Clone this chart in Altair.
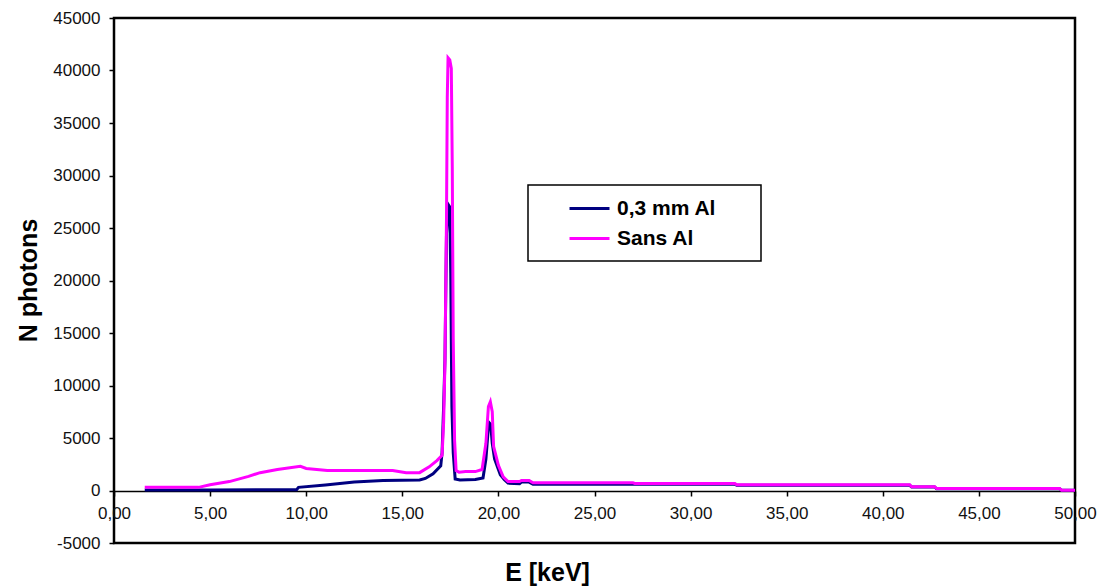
import altair as alt
import pandas as pd

# Series: 0,3 mm Al (navy)
e_al = [1.6, 5.0, 9.5, 9.6, 11.0, 12.5, 14.0, 15.9, 16.2, 16.6, 17.0, 17.07, 17.15, 17.22,
        17.3, 17.4, 17.47, 17.52, 17.58, 17.65, 17.75, 18.0, 18.8, 19.2, 19.35, 19.5, 19.6,
        19.68, 19.8, 20.1, 20.3, 20.5, 21.1, 21.2, 21.6, 21.8, 27.0, 27.1, 32.3, 32.4, 41.4,
        41.5, 42.7, 42.8, 49.2, 49.3, 50.0]
n_al = [40, 50, 80, 300, 520, 800, 950, 1000, 1150, 1600, 2350, 3600, 8000, 12500,
        24500, 27200, 27000, 20700, 8000, 3600, 1100, 1000, 1050, 1200, 3000, 6500, 6300,
        4500, 3000, 1500, 1050, 700, 650, 800, 800, 600, 600, 600, 600, 500, 500,
        340, 340, 160, 160, 30, 30]

# Series: Sans Al (magenta)
e_sans = [1.6, 4.4, 5.0, 6.0, 7.0, 7.6, 8.5, 9.7, 10.0, 11.1, 14.5, 15.2, 15.9, 16.4, 16.8,
          17.07, 17.15, 17.22, 17.3, 17.34, 17.38, 17.47, 17.55, 17.6, 17.65, 17.72, 17.8,
          17.95, 18.3, 18.8, 19.15, 19.35, 19.48, 19.58, 19.68, 19.75, 20.0, 20.25, 20.5,
          21.1, 21.2, 21.6, 21.8, 27.0, 27.1, 32.3, 32.4, 41.4, 41.5, 42.7, 42.8, 49.2, 49.3, 50.0]
n_sans = [300, 300, 550, 850, 1350, 1700, 2000, 2300, 2100, 1900, 1900, 1700, 1700, 2250, 2850,
          3350, 6500, 12200, 26000, 37400, 41200, 41000, 40200, 30800, 14500, 4800, 1900,
          1750, 1800, 1800, 2000, 4500, 8000, 8450, 7500, 4200, 2400, 1300, 850,
          850, 950, 950, 730, 730, 670, 670, 540, 540, 350, 350, 190, 190, 30, 30]

series_names = ["0,3 mm Al", "Sans Al"]
series_colors = ["#000080", "#FF00FF"]
x_ticks = [0, 5, 10, 15, 20, 25, 30, 35, 40, 45, 50]
y_ticks = [-5000, 0, 5000, 10000, 15000, 20000, 25000, 30000, 35000, 40000, 45000]

df = pd.concat([
    pd.DataFrame({"E": e_al, "N": n_al, "serie": series_names[0]}),
    pd.DataFrame({"E": e_sans, "N": n_sans, "serie": series_names[1]}),
], ignore_index=True)

FONT = "Liberation Sans"

chart = alt.Chart(df).mark_line(strokeWidth=3, clip=True).encode(
    x=alt.X("E:Q",
            scale=alt.Scale(domain=[0, 50], nice=False, zero=False),
            axis=alt.Axis(values=x_ticks, title="E [keV]", offset=-52,
                          labelExpr="replace(format(datum.value, '.2f'), '.', ',')",
                          labelFontSize=17, labelColor="#111", labelPadding=9,
                          labelOverlap=False, labelFlush=False, labelBound=False,
                          tickSize=5, tickColor="black", tickWidth=1.5,
                          domainColor="black", domainWidth=1.5, grid=False,
                          titleFontSize=25, titleFontWeight="bold", titleColor="black",
                          titleX=433, titleY=81, titleAlign="center", titleBaseline="middle")),
    y=alt.Y("N:Q",
            scale=alt.Scale(domain=[-5000, 45000], nice=False, zero=False),
            axis=alt.Axis(values=y_ticks,
                          labelExpr="replace(format(datum.value, 'd'), '\u2212', '-')",
                          title="N photons",
                          labelFontSize=17, labelColor="#111", labelPadding=9,
                          tickSize=5, tickColor="black", tickWidth=1.5,
                          domain=False, grid=False,
                          titleFontSize=25, titleFontWeight="bold", titleColor="black",
                          titleX=-86, titleY=262, titleAngle=270,
                          titleAlign="center", titleBaseline="middle")),
    color=alt.Color("serie:N",
                    scale=alt.Scale(domain=series_names, range=series_colors),
                    legend=alt.Legend(title=" ", titleOrient="right", titlePadding=33,
                                      titleFontSize=21,
                                      orient="none", legendX=414, legendY=167,
                                      labelFontSize=21, labelFontWeight="bold",
                                      labelColor="black", labelOffset=16,
                                      symbolType="M-2,0H2", symbolSize=400,
                                      symbolStrokeWidth=3, symbolOffset=38,
                                      padding=12, rowPadding=8,
                                      strokeColor="black", fillColor="white")),
    order=alt.Order("E:Q"),
).properties(
    width=961, height=525,
    autosize=alt.AutoSizeParams(type="none"),
    padding={"left": 114, "top": 18, "right": 28, "bottom": 45},
).configure(
    font=FONT
).configure_view(
    stroke="black", strokeWidth=2.5
).configure_legend(strokeWidth=1.5)

chart.save("out.html", embed_options={"renderer": "svg", "actions": False})
